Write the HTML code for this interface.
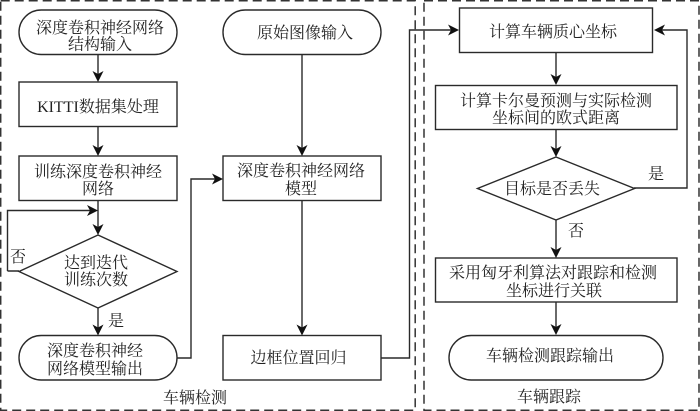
<!DOCTYPE html>
<html><head><meta charset="utf-8"><style>
html,body{margin:0;padding:0;background:#fff}
svg{display:block;filter:blur(0.35px)}
text{font-family:"Liberation Serif","Noto Serif CJK SC",serif;font-size:16px;fill:#222;text-anchor:middle}
.s{fill:#fff;stroke:#2a2a2a;stroke-width:1.4}
.l{fill:none;stroke:#2a2a2a;stroke-width:1.4}
.d{fill:none;stroke:#333;stroke-width:1.5;stroke-dasharray:9 5}
.a{fill:#111;stroke:none}
</style></head><body>
<svg width="700" height="411" viewBox="0 0 700 411" xmlns="http://www.w3.org/2000/svg">
<rect class="d" x="0.7" y="0.7" width="414.5" height="409.5"/>
<rect class="d" x="424" y="0.7" width="275" height="409.5"/>

<path class="l" d="M98 55V78M98 126V152M98 200V231M7.500 271H19M7.500 271V210.500H94M98 308V331M177 358H191V179H219M302 55V152M302 200V331M381 358H409.500V30H455M556 52V81M556 129V153M556 220V254M556 302V331M634 188H687V30H658"/>

<rect class="s" x="19" y="10" width="158" height="44.500" rx="22.200"/>
<rect class="s" x="19" y="82" width="158" height="44.500"/>
<rect class="s" x="19" y="156" width="158" height="44.500"/>
<polygon class="s" points="98,235 177,271.500 98,308 19,271.500"/>
<rect class="s" x="19" y="335.500" width="158" height="44.500" rx="22.200"/>
<rect class="s" x="223" y="10" width="158" height="44.500" rx="22.200"/>
<rect class="s" x="223" y="156" width="158" height="44.500"/>
<rect class="s" x="223" y="335.500" width="158" height="44.500"/>
<rect class="s" x="459.500" y="8" width="193" height="44.500"/>
<rect class="s" x="435.500" y="85.500" width="241.500" height="44"/>
<polygon class="s" points="556,157 634.500,188.500 556,220 477.500,188.500"/>
<rect class="s" x="435.500" y="258" width="241.500" height="44"/>
<rect class="s" x="449" y="335.500" width="214" height="44.500" rx="22.200"/>

<path class="a" d="M98 82L92.500 71L98 74L103.500 71ZM98 156L92.500 145L98 148L103.500 145ZM98 235L92.500 224L98 227L103.500 224ZM98 335.500L92.500 324.500L98 327.500L103.500 324.500ZM98 210.500L87 205L90 210.500L87 216ZM223 179L212 173.500L215 179L212 184.500ZM302 156L296.500 145L302 148L307.500 145ZM302 335.500L296.500 324.500L302 327.500L307.500 324.500ZM459 30L448 24.500L451 30L448 35.500ZM654 30L665 24.500L662 30L665 35.500ZM556 85L550.500 74L556 77L561.500 74ZM556 157L550.500 146L556 149L561.500 146ZM556 258L550.500 247L556 250L561.500 247ZM556 335L550.500 324L556 327L561.500 324Z"/>

<text x="100" y="33">深度卷积神经网络</text>
<text x="100" y="49.500">结构输入</text>
<text x="98" y="112">KITTI数据集处理</text>
<text x="98" y="177">训练深度卷积神经</text>
<text x="98" y="194">网络</text>
<text x="96" y="268">达到迭代</text>
<text x="96" y="285">训练次数</text>
<text x="95" y="356">深度卷积神经</text>
<text x="95" y="374">网络模型输出</text>
<text x="18" y="262">否</text>
<text x="116" y="326">是</text>
<text x="305" y="38">原始图像输入</text>
<text x="301" y="176">深度卷积神经网络</text>
<text x="301" y="194">模型</text>
<text x="298.500" y="363">边框位置回归</text>
<text x="195" y="403">车辆检测</text>
<text x="553" y="37">计算车辆质心坐标</text>
<text x="556" y="106">计算卡尔曼预测与实际检测</text>
<text x="556" y="123">坐标间的欧式距离</text>
<text x="552" y="194">目标是否丢失</text>
<text x="656" y="179">是</text>
<text x="576" y="236">否</text>
<text x="553" y="278">采用匈牙利算法对跟踪和检测</text>
<text x="554" y="296">坐标进行关联</text>
<text x="550" y="361">车辆检测跟踪输出</text>
<text x="549" y="402">车辆跟踪</text>
</svg>
</body></html>
